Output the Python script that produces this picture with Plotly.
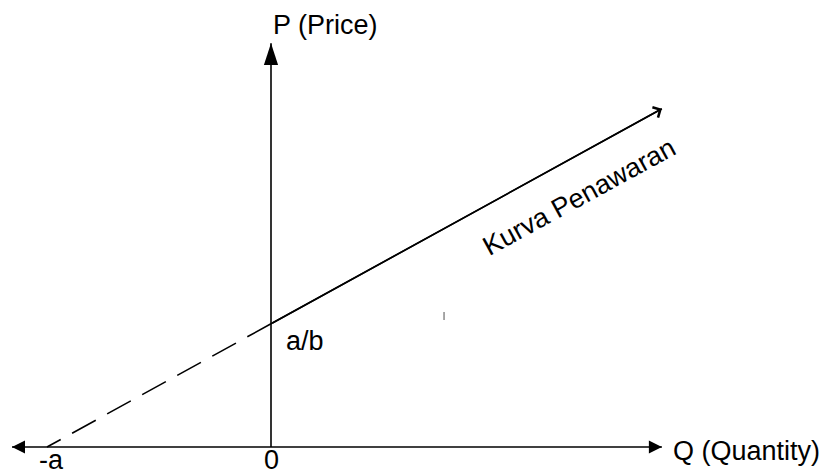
import plotly.graph_objects as go

# ---- data (units: Q and P) ----
q_axis = [-4.625, 6.98]        # horizontal axis ends (arrow tips)
p_axis = [0.0, 7.21]           # vertical axis ends
supply_dash_q = [0.0, -4.0]    # from intercept a/b down to -a
supply_dash_p = [2.2, 0.0]
supply_solid_q = [0.0, 6.98]   # from intercept a/b up to the arrow
supply_solid_p = [2.2, 6.04]
tick_q = [3.09, 3.09]          # stray small tick in the picture
tick_p = [2.27, 2.41]

label_q = {"-a": -3.92, "0": 0.0}
axis_titles = ["P (Price)", "Q (Quantity)"]
curve_label = "Kurva Penawaran"
intercept_label = "a/b"

FONT = "Liberation Sans, Arial, sans-serif"
FS = 27
BLACK = "#000000"
LW = 1.6

fig = go.Figure()

# axes lines
fig.add_trace(go.Scatter(x=q_axis, y=[0, 0], mode="lines",
                         line=dict(color=BLACK, width=LW), hoverinfo="skip"))
fig.add_trace(go.Scatter(x=[0, 0], y=p_axis, mode="lines",
                         line=dict(color=BLACK, width=LW), hoverinfo="skip"))

# arrowheads on axes
fig.add_trace(go.Scatter(x=[q_axis[0]], y=[0], mode="markers",
                         marker=dict(symbol="arrow-left", size=13, color=BLACK,
                                     line=dict(width=0)), hoverinfo="skip"))
fig.add_trace(go.Scatter(x=[q_axis[1]], y=[0], mode="markers",
                         marker=dict(symbol="arrow-right", size=13, color=BLACK,
                                     line=dict(width=0)), hoverinfo="skip"))
fig.add_trace(go.Scatter(x=[0], y=[p_axis[1]], mode="markers",
                         marker=dict(symbol="arrow", angle=0, size=23, color=BLACK,
                                     line=dict(width=0)), hoverinfo="skip"))

# supply curve: dashed part and solid part
fig.add_trace(go.Scatter(x=supply_dash_q, y=supply_dash_p, mode="lines",
                         line=dict(color=BLACK, width=LW, dash="27px,13px"),
                         hoverinfo="skip"))
fig.add_trace(go.Scatter(x=supply_solid_q, y=supply_solid_p, mode="lines",
                         line=dict(color=BLACK, width=LW), hoverinfo="skip"))

# stray tick
fig.add_trace(go.Scatter(x=tick_q, y=tick_p, mode="lines",
                         line=dict(color="#8a8a8a", width=1.5), hoverinfo="skip"))

annotations = [
    # open arrowhead at end of supply curve
    dict(x=supply_solid_q[1], y=supply_solid_p[1], ax=supply_solid_q[0], ay=supply_solid_p[0],
         xref="x", yref="y", axref="x", ayref="y", text="", showarrow=True,
         arrowhead=4, arrowsize=1.4, arrowwidth=LW, arrowcolor=BLACK, standoff=0),
    dict(x=0.0, y=7.54, xref="x", yref="y", text=axis_titles[0], showarrow=False,
         xanchor="left", yanchor="middle"),
    dict(x=7.14, y=-0.07, xref="x", yref="y", text=axis_titles[1], showarrow=False,
         xanchor="left", yanchor="middle"),
    dict(x=0.23, y=1.89, xref="x", yref="y", text=intercept_label, showarrow=False,
         xanchor="left", yanchor="middle"),
    dict(x=5.5, y=4.46, xref="x", yref="y", text=curve_label, showarrow=False,
         xanchor="center", yanchor="middle", textangle=-28.6),
]
for txt, qv in label_q.items():
    annotations.append(dict(x=qv, y=-0.24, xref="x", yref="y", text=txt, showarrow=False,
                            xanchor="center", yanchor="middle"))

fig.update_layout(
    width=825, height=472,
    margin=dict(l=0, r=0, t=0, b=0),
    paper_bgcolor="white", plot_bgcolor="white",
    showlegend=False,
    font=dict(family=FONT, size=FS, color=BLACK),
    xaxis=dict(range=[-271 / 56, 554 / 56], visible=False, fixedrange=True),
    yaxis=dict(range=[-25 / 56, 447 / 56], visible=False, fixedrange=True),
    annotations=annotations,
)

fig.write_html("out.html", config={"displayModeBar": False},
               post_script="document.body.style.margin='0';document.body.style.overflow='hidden';")
